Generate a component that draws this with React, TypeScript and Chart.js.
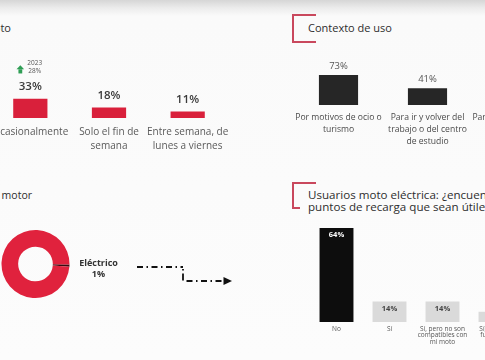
import React, { useEffect, useRef } from "react";
import { Chart, registerables } from "chart.js";

Chart.register(...registerables);

const FONT = "'Open Sans', 'DejaVu Sans', sans-serif";

// ---- Data ----
const freqLabels = [["Ocasionalmente"], ["Solo el fin de", "semana"], ["Entre semana, de", "lunes a viernes"]];
const freqValues = [33, 18, 11];
const prevYearLabel = "2023";
const prevYearValue = 28;

const contextLabels = [
  ["Por motivos de ocio o", "turismo"],
  ["Para ir y volver del", "trabajo o del centro", "de estudio"],
  ["Para desplazamientos", "por trabajo"],
];
const contextValues = [73, 41, 15];

const motorLabels = ["Eléctrico", "Combustión"];
const motorValues = [1, 99];

const chargeLabels = [["No"], ["Sí"], ["Sí, pero no son", "compatibles con", "mi moto"], ["Sí, pero no", "funcionan"]];
const chargeValues = [64, 14, 14, 7];

const RED = "#d9203b";

const valueLabelPlugin = {
  id: "valueLabels",
  afterDatasetsDraw(chart: any, _a: any, opts: any) {
    if (!opts || !opts.enabled) return;
    const ctx = chart.ctx;
    const meta = chart.getDatasetMeta(0);
    const data = chart.data.datasets[0].data;
    ctx.save();
    ctx.font = `${opts.weight} ${opts.size}px ${FONT}`;
    ctx.textAlign = "center";
    ctx.textBaseline = "middle";
    meta.data.forEach((bar: any, i: number) => {
      ctx.fillStyle = Array.isArray(opts.color) ? opts.color[i] : opts.color;
      const y = opts.inside ? bar.y + opts.offset : bar.y - opts.offset;
      ctx.fillText(`${data[i]}%`, bar.x, y);
    });
    ctx.restore();
  },
};

const prevYearPlugin = {
  id: "prevYear",
  afterDatasetsDraw(chart: any) {
    const ctx = chart.ctx;
    const bar: any = chart.getDatasetMeta(0).data[0];
    const ax = bar.x - 10;
    const ay = bar.y - 29;
    ctx.save();
    ctx.fillStyle = "#2f9e55";
    ctx.beginPath();
    ctx.moveTo(ax - 3.8, ay - 0.5);
    ctx.lineTo(ax, ay - 4.5);
    ctx.lineTo(ax + 3.8, ay - 0.5);
    ctx.closePath();
    ctx.fill();
    ctx.fillRect(ax - 1.9, ay - 0.6, 3.8, 4.2);
    ctx.fillStyle = "#555";
    ctx.font = `400 6.5px ${FONT}`;
    ctx.textAlign = "left";
    ctx.textBaseline = "middle";
    ctx.fillText(prevYearLabel, bar.x - 3, bar.y - 36);
    ctx.fillText(`${prevYearValue}%`, bar.x - 2, bar.y - 28);
    ctx.restore();
  },
};

const donutPlugin = {
  id: "donutNotes",
  afterDraw(chart: any) {
    const ctx = chart.ctx;
    const arc: any = chart.getDatasetMeta(0).data[0];
    const cx = arc.x;
    const cy = arc.y;
    ctx.save();
    ctx.fillStyle = "#333";
    ctx.font = `700 9px ${FONT}`;
    ctx.textAlign = "center";
    ctx.textBaseline = "middle";
    ctx.fillText(`${motorLabels[0]}`, cx + 63, cy - 1);
    ctx.fillText(`${motorValues[0]}%`, cx + 63, cy + 10);
    ctx.strokeStyle = "#111";
    ctx.lineWidth = 1.8;
    ctx.setLineDash([6, 3.5, 1.5, 3.5]);
    ctx.beginPath();
    ctx.moveTo(cx + 101.5, cy + 3);
    ctx.lineTo(cx + 147.5, cy + 3);
    ctx.stroke();
    ctx.setLineDash([1.5, 3, 7, 3]);
    ctx.beginPath();
    ctx.moveTo(cx + 147.5, cy + 5);
    ctx.lineTo(cx + 147.5, cy + 18);
    ctx.stroke();
    ctx.setLineDash([6, 3.5, 1.5, 3.5]);
    ctx.beginPath();
    ctx.moveTo(cx + 151, cy + 17);
    ctx.lineTo(cx + 189, cy + 17);
    ctx.stroke();
    ctx.setLineDash([]);
    ctx.fillStyle = "#111";
    ctx.beginPath();
    ctx.moveTo(cx + 188, cy + 13);
    ctx.lineTo(cx + 196.5, cy + 17);
    ctx.lineTo(cx + 188, cy + 21);
    ctx.closePath();
    ctx.fill();
    ctx.restore();
  },
};

function barOptions(o: {
  pad: any;
  axisH: number;
  tickPad: number;
  font: number;
  lh: number;
  tickColor: string;
  barPct: number;
  labels: any;
}) {
  return {
    animation: false as const,
    responsive: false,
    maintainAspectRatio: false,
    layout: { padding: o.pad },
    plugins: {
      legend: { display: false },
      tooltip: { enabled: false },
      valueLabels: o.labels,
    },
    datasets: { bar: { categoryPercentage: 1, barPercentage: o.barPct } },
    scales: {
      x: {
        grid: { display: false, drawTicks: false },
        border: { display: false },
        ticks: {
          autoSkip: false,
          maxRotation: 0,
          minRotation: 0,
          padding: o.tickPad,
          color: o.tickColor,
          font: { family: FONT, size: o.font, lineHeight: o.lh / o.font },
        },
        afterFit: (s: any) => {
          s.height = o.axisH;
        },
      },
      y: { display: false, min: 0, max: 100 },
    },
  };
}

function useChart(ref: React.RefObject<HTMLCanvasElement | null>, make: (c: HTMLCanvasElement) => Chart) {
  useEffect(() => {
    if (!ref.current) return;
    const ch = make(ref.current);
    return () => ch.destroy();
  }, []);
}

function Bracket({ x, y, h, top, bottom }: { x: number; y: number; h: number; top: number; bottom: number }) {
  const c = "#c9485d";
  return (
    <>
      <div style={{ position: "absolute", left: x, top: y, width: 2, height: h, background: c }} />
      <div style={{ position: "absolute", left: x, top: y, width: top, height: 2, background: c }} />
      <div style={{ position: "absolute", left: x, top: y + h - 2, width: bottom, height: 2, background: c }} />
    </>
  );
}

export default function App() {
  const freqRef = useRef<HTMLCanvasElement>(null);
  const ctxRef = useRef<HTMLCanvasElement>(null);
  const motorRef = useRef<HTMLCanvasElement>(null);
  const chargeRef = useRef<HTMLCanvasElement>(null);

  useChart(freqRef, (c) =>
    new Chart(c, {
      type: "bar",
      data: { labels: freqLabels, datasets: [{ data: freqValues, backgroundColor: RED, borderWidth: 0, inflateAmount: 0 }] },
      options: barOptions({
        pad: { left: 30, right: 40, top: 40, bottom: 0 },
        axisH: 45,
        tickPad: 7,
        font: 10,
        lh: 14,
        tickColor: "#5a5a5a",
        barPct: 0.435,
        labels: { enabled: true, size: 11.5, weight: 600, color: "#3a3a3a", offset: 12 },
      }) as any,
      plugins: [valueLabelPlugin, prevYearPlugin],
    } as any)
  );

  useChart(ctxRef, (c) =>
    new Chart(c, {
      type: "bar",
      data: { labels: contextLabels, datasets: [{ data: contextValues, backgroundColor: "#262626", borderWidth: 0, inflateAmount: 0 }] },
      options: barOptions({
        pad: { left: 20, right: 20, top: 30, bottom: 0 },
        axisH: 50,
        tickPad: 7,
        font: 8.6,
        lh: 12,
        tickColor: "#4a4a4a",
        barPct: 0.44,
        labels: { enabled: true, size: 9.5, weight: 400, color: "#555", offset: 9 },
      }) as any,
      plugins: [valueLabelPlugin],
    } as any)
  );

  useChart(motorRef, (c) =>
    new Chart(c, {
      type: "doughnut",
      data: {
        labels: motorLabels,
        datasets: [{ data: motorValues, backgroundColor: ["#3a0a10", "#e0223d"], borderWidth: 0 }],
      },
      options: {
        animation: false,
        responsive: false,
        maintainAspectRatio: false,
        cutout: "51%",
        rotation: 91,
        layout: { padding: { left: 1.5, top: 15, right: 175.5, bottom: 7 } },
        plugins: { legend: { display: false }, tooltip: { enabled: false } },
      } as any,
      plugins: [donutPlugin],
    })
  );

  useChart(chargeRef, (c) =>
    new Chart(c, {
      type: "bar",
      data: {
        labels: chargeLabels,
        datasets: [
          {
            data: chargeValues,
            backgroundColor: ["#0d0d0d", "#dadada", "#dadada", "#dadada"],
            borderWidth: 0,
            inflateAmount: 0,
          },
        ],
      },
      options: barOptions({
        pad: { left: 20, right: 20, top: 0, bottom: 0 },
        axisH: 30,
        tickPad: 3.5,
        font: 6.5,
        lh: 6.6,
        tickColor: "#555",
        barPct: 0.64,
        labels: {
          enabled: true,
          inside: true,
          size: 7.5,
          weight: 700,
          color: ["#ffffff", "#444", "#444", "#444"],
          offset: 7,
        },
      }) as any,
      plugins: [valueLabelPlugin],
    } as any)
  );

  const title: React.CSSProperties = {
    position: "absolute",
    fontFamily: FONT,
    color: "#2e2e2e",
    whiteSpace: "nowrap",
  };

  return (
    <div
      style={{
        position: "fixed",
        left: 0,
        top: 0,
        width: 485,
        height: 360,
        overflow: "hidden",
        background: "linear-gradient(#d6d6d6 0px, #ececec 8px, #fafafa 16px, #fcfcfc 100%)",
      }}
    >
      <div style={{ ...title, left: -200, width: 211, textAlign: "right", top: 20, fontSize: 11, lineHeight: "16px" }}>
        Frecuencia de uso de la moto
      </div>
      <Bracket x={292} y={14} h={29} top={24} bottom={24} />
      <div style={{ ...title, left: 308, top: 20, fontSize: 11, lineHeight: "16px" }}>Contexto de uso</div>
      <div style={{ ...title, left: -200, width: 232, textAlign: "right", top: 187, fontSize: 10.5, lineHeight: "16px" }}>
        Tipo de motor
      </div>
      <Bracket x={292} y={182} h={27} top={24} bottom={8} />
      <div style={{ ...title, left: 308, top: 188.5, fontSize: 11.6, lineHeight: "12.5px" }}>
        Usuarios moto eléctrica: ¿encuentras
        <br />
        puntos de recarga que sean útiles para ti?
      </div>

      <canvas ref={freqRef} width={306} height={143} style={{ position: "absolute", left: -39, top: 20 }} />
      <canvas ref={ctxRef} width={307} height={121} style={{ position: "absolute", left: 274, top: 34 }} />
      <canvas ref={motorRef} width={245} height={90} style={{ position: "absolute", left: 0, top: 215 }} />
      <canvas ref={chargeRef} width={252} height={177} style={{ position: "absolute", left: 290, top: 175 }} />
    </div>
  );
}
